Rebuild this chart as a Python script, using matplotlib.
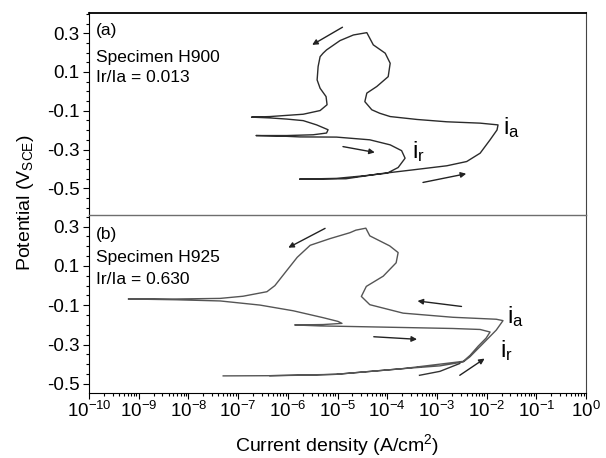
import numpy as np
import matplotlib
matplotlib.use('Agg')
import matplotlib.pyplot as plt
from matplotlib.ticker import (FixedLocator, MultipleLocator, LogLocator,
                               LogFormatterMathtext, NullFormatter)

plt.rcParams['font.family'] = ['Liberation Sans', 'DejaVu Sans']
plt.rcParams['mathtext.default'] = 'regular'
plt.rcParams['axes.unicode_minus'] = False

# ─── Panel (a): specimen H900, log10 current density (A/cm2) vs potential (V) ─
A_logi = [-5.755, -4.83, -4.14, -3.48, -2.80, -2.40, -2.13, -1.93, -1.79, -1.77,
          -2.13, -2.80, -3.40, -3.94, -4.15, -4.31, -4.45, -4.41, -4.21, -3.98,
          -3.94, -4.04, -4.28, -4.41,
          -4.68, -4.95, -5.22, -5.29, -5.35, -5.39, -5.41, -5.35, -5.23, -5.21,
          -5.35, -5.69, -6.36, -6.73,
          -6.36, -6.02, -5.69, -5.42, -5.19, -5.22, -5.49, -6.02, -6.64,
          -6.02, -5.76, -5.02, -4.35, -3.94, -3.71, -3.64, -3.78, -4.00, -4.48,
          -5.02, -5.755]
A_pot = [-0.453, -0.451, -0.425, -0.405, -0.384, -0.362, -0.319, -0.250, -0.199, -0.173,
         -0.164, -0.157, -0.145, -0.130, -0.113, -0.095, -0.053, -0.009, 0.025, 0.076,
         0.145, 0.197, 0.240, 0.303,
         0.291, 0.262, 0.214, 0.197, 0.179, 0.128, 0.059, 0.016, -0.027, -0.069,
         -0.099, -0.118, -0.130, -0.133,
         -0.137, -0.143, -0.151, -0.173, -0.198, -0.215, -0.224, -0.228, -0.228,
         -0.232, -0.235, -0.236, -0.250, -0.276, -0.306, -0.345, -0.393, -0.422, -0.436,
         -0.449, -0.453]

# ─── Panel (b): specimen H925 ────────────────────────────────────────────────
B_logi = [-7.30, -6.36, -5.55, -5.03, -3.68, -2.94, -2.47, -2.34, -2.07, -1.805, -1.67,
          -1.805, -2.68, -3.68, -4.35, -4.52, -4.42, -4.08, -3.82, -3.78, -3.95, -4.35, -4.43,
          -4.63, -4.75, -5.15, -5.55, -5.81, -6.02, -6.26, -6.42, -6.90, -7.36, -8.24, -9.21,
          -8.24, -7.36, -6.56, -5.89, -5.29, -4.99, -4.91,
          -5.29, -5.86,
          -5.35, -4.91, -3.68, -2.68, -2.13, -1.93, -2.01, -2.17, -2.33, -2.47,
          -3.68, -5.03, -6.36]
B_pot = [-0.459, -0.458, -0.455, -0.451, -0.422, -0.408, -0.388, -0.363, -0.294, -0.226, -0.178,
         -0.171, -0.161, -0.140, -0.097, -0.055, -0.004, 0.048, 0.116, 0.168, 0.202, 0.253, 0.292,
         0.282, 0.269, 0.239, 0.205, 0.144, 0.077, 0.000, -0.031, -0.054, -0.065, -0.068, -0.068,
         -0.072, -0.078, -0.099, -0.128, -0.163, -0.182, -0.192,
         -0.198, -0.200,
         -0.205, -0.207, -0.213, -0.218, -0.223, -0.236, -0.267, -0.308, -0.354, -0.385,
         -0.422, -0.451, -0.458]

# scan-direction arrows: (tail logi, tail E, head logi, head E)
A_arrows = [(-4.90, 0.331, -5.51, 0.240),
            (-4.89, -0.285, -4.25, -0.315),
            (-3.28, -0.470, -2.41, -0.425)]
B_arrows = [(-5.25, 0.291, -5.99, 0.193),
            (-2.505, -0.106, -3.39, -0.078),
            (-4.27, -0.260, -3.40, -0.273),
            (-2.54, -0.456, -2.04, -0.371)]
B_stroke_logi = [-3.35, -2.94, -2.54]
B_stroke_pot = [-0.456, -0.436, -0.396]

YTICKS = [-0.5, -0.3, -0.1, 0.1, 0.3]
XTICKS = 10.0 ** np.arange(-10, 1)

fig = plt.figure(figsize=(6.06, 4.58), dpi=100)
L, W = 89 / 606, 497 / 606
ax_b = fig.add_axes([L, 1 - 393 / 458, W, 178 / 458])
ax_a = fig.add_axes([L, 1 - 215 / 458, W, 202.5 / 458])
ax_a.patch.set_visible(False)
ax_b.patch.set_visible(False)


def style(ax, ylim):
    ax.set_xscale('log')
    ax.set_xlim(1e-10, 1)
    ax.set_ylim(*ylim)
    ax.yaxis.set_major_locator(FixedLocator(YTICKS))
    ax.yaxis.set_minor_locator(MultipleLocator(0.05))
    ax.set_yticklabels([f'{v:.1f}' for v in YTICKS])
    ax.xaxis.set_major_locator(FixedLocator(XTICKS))
    ax.xaxis.set_minor_locator(LogLocator(base=10, subs=np.arange(2, 10), numticks=30))
    ax.xaxis.set_major_formatter(LogFormatterMathtext())
    ax.xaxis.set_minor_formatter(NullFormatter())
    ax.tick_params(which='both', direction='out', width=0.8, labelsize=13.5, pad=3,
                   top=False, right=False)
    ax.tick_params(which='major', length=4)
    ax.tick_params(which='minor', length=2.2)
    ax.spines['right'].set_color('#444444')


style(ax_a, (-0.638, 0.407))
style(ax_b, (-0.546, 0.359))
ax_a.tick_params(axis='x', which='both', bottom=False, labelbottom=False)
ax_a.spines['bottom'].set_color('#6e6e6e')
ax_a.spines['bottom'].set_linewidth(1.0)
ax_b.spines['top'].set_visible(False)
ax_a.spines['top'].set_linewidth(1.3)
ax_b.tick_params(axis='x', pad=2)

ax_a.plot(10.0 ** np.array(A_logi), A_pot, color='#2b2b2b', lw=1.0)
ax_b.plot(10.0 ** np.array(B_logi), B_pot, color='#555555', lw=1.0)
ax_b.plot(10.0 ** np.array(B_stroke_logi), B_stroke_pot, color='#333333', lw=1.0)

for ax, arrows in ((ax_a, A_arrows), (ax_b, B_arrows)):
    for x0, y0, x1, y1 in arrows:
        ax.annotate('', xy=(10 ** x1, y1), xytext=(10 ** x0, y0),
                    arrowprops=dict(arrowstyle='-|>', color='#222222', lw=1.0,
                                    mutation_scale=8, shrinkA=0, shrinkB=0))

ax_a.text(0.014, 0.909, '(a)', transform=ax_a.transAxes, fontsize=12.5, va='center')
ax_a.text(0.014, 0.780, 'Specimen H900', transform=ax_a.transAxes, fontsize=12.5, va='center')
ax_a.text(0.014, 0.681, 'Ir/Ia = 0.013', transform=ax_a.transAxes, fontsize=12.5, va='center')
ax_b.text(0.014, 0.893, '(b)', transform=ax_b.transAxes, fontsize=12.5, va='center')
ax_b.text(0.014, 0.764, 'Specimen H925', transform=ax_b.transAxes, fontsize=12.5, va='center')
ax_b.text(0.014, 0.640, 'Ir/Ia = 0.630', transform=ax_b.transAxes, fontsize=12.5, va='center')

ax_a.text(10 ** -1.67, -0.188, r'$i_a$', fontsize=17, va='center')
ax_a.text(10 ** -3.50, -0.312, r'$i_r$', fontsize=17, va='center')
ax_b.text(10 ** -1.59, -0.159, r'$i_a$', fontsize=17, va='center')
ax_b.text(10 ** -1.73, -0.328, r'$i_r$', fontsize=17, va='center')

fig.text(25 / 606, 1 - 203 / 458, r'Potential (V$_{SCE}$)', rotation=90,
         fontsize=14, ha='center', va='center')
fig.text(337.5 / 606, 1 - 445 / 458, r'Current density (A/cm$^2$)',
         fontsize=14, ha='center', va='center')

fig.savefig('out.png', dpi=100, facecolor='white')
